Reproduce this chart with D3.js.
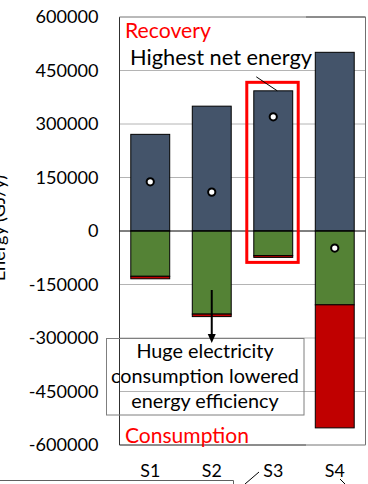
<!DOCTYPE html>
<html>
<head>
<meta charset="utf-8">
<script src="https://cdn.jsdelivr.net/npm/d3@7"></script>
<style>
  html, body { margin: 0; padding: 0; background: #fff; }
  svg { display: block; }
  text { font-family: Lato, "Open Sans", sans-serif; }
</style>
</head>
<body>
<svg id="chart" width="368" height="484"></svg>
<script>
// ---- data ----
const categories = ["S1", "S2", "S3", "S4"];
const recovery = [271000, 350000, 393000, 501000];       // dark blue, positive
const heatConsumption = [-127000, -233000, -69000, -207000]; // green, negative
const electricity = [-7000, -7000, -5000, -345000];      // red, stacked below green
const netEnergy = [138000, 109000, 320000, -48000];      // white dots
const yTicks = [600000, 450000, 300000, 150000, 0, -150000, -300000, -450000, -600000];
const yTitle = "Energy (GJ/y)";
const recoveryLabel = "Recovery";
const consumptionLabel = "Consumption";
const highlightLabel = "Highest net energy";
const noteLines = ["Huge electricity", "consumption lowered", "energy efficiency"];

// ---- layout ----
const svg = d3.select("#chart");
const pLeft = 119.5, pRight = 365.5, pTop = 17, pBottom = 445;
const colors = { rec: "#44546A", heat: "#548235", elec: "#C00000" };

const x = d3.scaleBand().domain(categories).range([pLeft, pRight])
  .paddingInner(0.367).paddingOuter(0.1835);
const y = d3.scaleLinear().domain([-600000, 600000]).range([pBottom, pTop]);

// font fitting helper
function fitSize(str, target, weight) {
  const t = svg.append("text").attr("font-size", 100).attr("font-weight", weight || "normal").text(str);
  const w = t.node().getComputedTextLength();
  t.remove();
  return 100 * target / w;
}

// gridlines
svg.append("g").selectAll("line").data(yTicks.filter(d => d !== 0)).join("line")
  .attr("x1", pLeft).attr("x2", pRight)
  .attr("y1", d => y(d)).attr("y2", d => y(d))
  .attr("stroke", "#b4b4b4").attr("stroke-width", 1);

// frame
const frame = svg.append("g").attr("fill", "none");
frame.append("line").attr("x1", pLeft).attr("x2", pLeft).attr("y1", pTop).attr("y2", pBottom).attr("stroke", "#303030");
frame.append("line").attr("x1", pLeft).attr("x2", 306).attr("y1", pTop).attr("y2", pTop).attr("stroke", "#9a9a9a");
frame.append("line").attr("x1", 306).attr("x2", pRight).attr("y1", pTop).attr("y2", pTop).attr("stroke", "#404040");
frame.append("line").attr("x1", pRight).attr("x2", pRight).attr("y1", pTop).attr("y2", pBottom).attr("stroke", "#707070");
frame.append("line").attr("x1", pLeft).attr("x2", 306).attr("y1", pBottom).attr("y2", pBottom).attr("stroke", "#404040");
frame.append("line").attr("x1", 306).attr("x2", pRight).attr("y1", pBottom).attr("y2", pBottom).attr("stroke", "#9a9a9a");

// y axis
const tickFont = fitSize("600000", 63);
const yAxis = svg.append("g").attr("transform", `translate(${pLeft},0)`)
  .call(d3.axisLeft(y).tickValues(yTicks).tickSize(0).tickPadding(21).tickFormat(d => String(d)));
yAxis.select(".domain").remove();
yAxis.selectAll("text").attr("font-size", tickFont).attr("fill", "#000")
  .style("font-family", "Lato, 'Open Sans', sans-serif");

// y title (mostly clipped at left edge)
svg.append("text").attr("transform", "translate(5,228) rotate(-90)")
  .attr("text-anchor", "middle").attr("font-size", tickFont).text(yTitle);

// bars
const idx = categories.map((c, i) => i);
const g = svg.append("g").attr("stroke", "#000").attr("stroke-width", 1);
g.selectAll("rect.rec").data(idx).join("rect").attr("class", "rec")
  .attr("x", i => x(categories[i])).attr("width", x.bandwidth())
  .attr("y", i => y(recovery[i])).attr("height", i => y(0) - y(recovery[i]))
  .attr("fill", colors.rec);
g.selectAll("rect.heat").data(idx).join("rect").attr("class", "heat")
  .attr("x", i => x(categories[i])).attr("width", x.bandwidth())
  .attr("y", y(0)).attr("height", i => y(heatConsumption[i]) - y(0))
  .attr("fill", colors.heat);
g.selectAll("rect.elec").data(idx).join("rect").attr("class", "elec")
  .attr("x", i => x(categories[i])).attr("width", x.bandwidth())
  .attr("y", i => y(heatConsumption[i]))
  .attr("height", i => y(heatConsumption[i] + electricity[i]) - y(heatConsumption[i]))
  .attr("fill", colors.elec);

// zero line
svg.append("line").attr("x1", pLeft).attr("x2", pRight).attr("y1", y(0)).attr("y2", y(0))
  .attr("stroke", "#000").attr("stroke-width", 1);

// net energy dots
svg.append("g").selectAll("circle").data(idx).join("circle")
  .attr("cx", i => x(categories[i]) + x.bandwidth() / 2)
  .attr("cy", i => y(netEnergy[i]))
  .attr("r", 3.6).attr("fill", "#fff").attr("stroke", "#000").attr("stroke-width", 2);

// x axis labels
const xAxis = svg.append("g").attr("transform", `translate(0,${pBottom})`)
  .call(d3.axisBottom(x).tickSize(0));
xAxis.select(".domain").remove();
xAxis.selectAll("text").attr("y", 32).attr("dy", 0).attr("fill", "#000")
  .attr("font-size", fitSize("S1", 20)).style("font-family", "Lato, 'Open Sans', sans-serif");

// highlight rectangle around S3
const s3 = categories[2];
const s3Bottom = y(heatConsumption[2] + electricity[2]);
svg.append("rect")
  .attr("x", x(s3) - 7).attr("y", y(recovery[2]) - 8.5)
  .attr("width", x.bandwidth() + 12.5).attr("height", s3Bottom + 5 - (y(recovery[2]) - 8.5))
  .attr("fill", "none").attr("stroke", "#ff0000").attr("stroke-width", 3);

// leader line to highlight
svg.append("line").attr("x1", x(s3) + 2.5).attr("y1", y(recovery[2]) - 14)
  .attr("x2", x(s3) + 23.5).attr("y2", y(recovery[2]))
  .attr("stroke", "#000").attr("stroke-width", 1);

// labels inside plot
svg.append("text").attr("x", 125).attr("y", 37.5).attr("fill", "#ff0000")
  .attr("font-size", fitSize(recoveryLabel, 86)).text(recoveryLabel);
svg.append("text").attr("x", 130).attr("y", 64.5).attr("fill", "#000")
  .attr("font-size", fitSize(highlightLabel, 182)).text(highlightLabel);
svg.append("text").attr("x", 125).attr("y", 443).attr("fill", "#ff0000")
  .attr("font-size", fitSize(consumptionLabel, 124)).text(consumptionLabel);

// note box
svg.append("rect").attr("x", 106.5).attr("y", 338.5).attr("width", 197.5).attr("height", 76.5)
  .attr("fill", "none").attr("stroke", "#7f7f7f").attr("stroke-width", 1);
const noteFont = fitSize(noteLines[1], 188);
const noteBase = [357.5, 383, 407.5];
svg.append("g").selectAll("text").data(noteLines).join("text")
  .attr("x", 205).attr("y", (d, i) => noteBase[i]).attr("text-anchor", "middle")
  .attr("font-size", noteFont).attr("fill", "#000").text(d => d);

// arrow from S2 bar down to note
const ax = x(categories[1]) + x.bandwidth() / 2;
svg.append("line").attr("x1", ax).attr("x2", ax).attr("y1", 290).attr("y2", 335)
  .attr("stroke", "#000").attr("stroke-width", 2);
svg.append("path").attr("d", `M${ax - 4},334 L${ax + 4},334 L${ax},343 Z`).attr("fill", "#000");

// fragments of elements below the crop
svg.append("path").attr("d", "M0,480.5 H233.5 V484").attr("fill", "none").attr("stroke", "#606060");
svg.append("line").attr("x1", 245).attr("y1", 484).attr("x2", 259).attr("y2", 472).attr("stroke", "#000");
svg.append("line").attr("x1", 340).attr("y1", 479).attr("x2", 345).attr("y2", 484).attr("stroke", "#000");
</script>
</body>
</html>
